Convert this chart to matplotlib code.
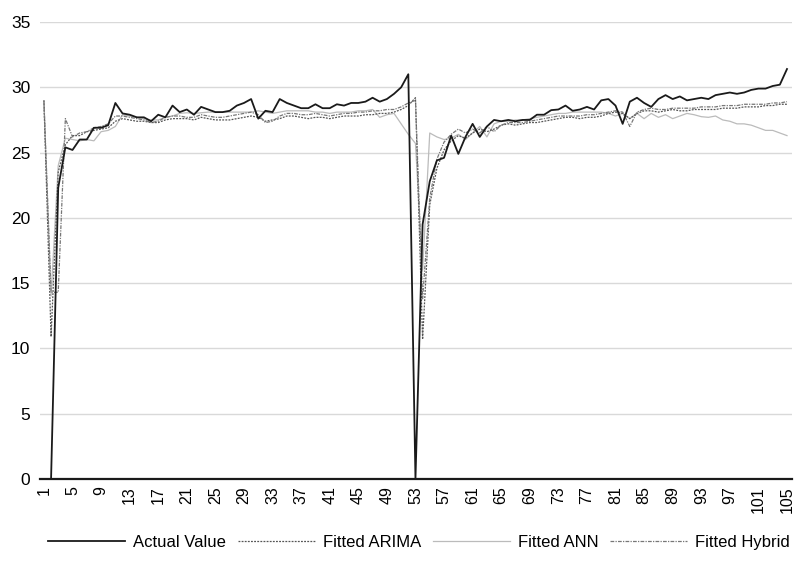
import matplotlib
matplotlib.use("Agg")
import matplotlib.pyplot as plt

plt.rcParams['font.family'] = ['Liberation Sans', 'DejaVu Sans']

periods = list(range(1, 106))
tick_labels = [str(p) for p in periods[::4]]

actual = [0, 0, 22.3, 25.4, 25.2, 26.0, 26.0, 26.9, 26.9, 27.1, 28.8, 28.0, 27.9, 27.7, 27.7, 27.4, 27.9, 27.7, 28.6, 28.1,
          28.3, 27.9, 28.5, 28.3, 28.1, 28.1, 28.2, 28.6, 28.8, 29.1, 27.6, 28.2, 28.1, 29.1, 28.8, 28.6, 28.4, 28.4, 28.7, 28.4,
          28.4, 28.7, 28.6, 28.8, 28.8, 28.9, 29.2, 28.9, 29.1, 29.5, 30.0, 31.0, 0, 19.5, 22.8, 24.4, 24.6, 26.3, 24.9, 26.2,
          27.2, 26.2, 27.0, 27.5, 27.4, 27.5, 27.4, 27.5, 27.5, 27.9, 27.9, 28.25, 28.3, 28.6, 28.2, 28.3, 28.5, 28.3, 29.0, 29.1,
          28.6, 27.2, 28.9, 29.2, 28.8, 28.5, 29.1, 29.4, 29.1, 29.3, 29.0, 29.1, 29.2, 29.1, 29.4, 29.5, 29.6, 29.5, 29.6, 29.8,
          29.9, 29.9, 30.1, 30.2, 31.4]

arima = [29.0, 10.9, 23.5, 25.6, 26.3, 26.3, 26.6, 26.7, 26.8, 26.9, 27.4, 27.6, 27.5, 27.4, 27.4, 27.3, 27.3, 27.5, 27.6, 27.6,
         27.6, 27.5, 27.7, 27.6, 27.5, 27.5, 27.5, 27.6, 27.7, 27.8, 27.7, 27.4, 27.5, 27.6, 27.8, 27.8, 27.7, 27.6, 27.7, 27.7,
         27.6, 27.7, 27.8, 27.8, 27.8, 27.9, 27.9, 28.0, 28.0, 28.1, 28.3, 28.6, 29.2, 10.7, 21.0, 23.8, 25.2, 25.9, 26.3, 26.1,
         26.5, 26.8, 26.6, 26.8, 27.1, 27.2, 27.1, 27.2, 27.3, 27.3, 27.4, 27.5, 27.6, 27.7, 27.7, 27.6, 27.7, 27.7, 27.8, 28.0,
         28.1, 28.0, 27.6, 28.0, 28.2, 28.2, 28.1, 28.2, 28.3, 28.2, 28.2, 28.3, 28.3, 28.3, 28.3, 28.4, 28.4, 28.4, 28.5, 28.5,
         28.5, 28.6, 28.6, 28.7, 28.7]

ann = [28.8, 14.0, 24.0, 26.1, 26.0, 25.9, 26.0, 25.9, 26.6, 26.7, 27.0, 27.9, 27.8, 27.7, 27.6, 27.5, 27.5, 27.7, 27.8, 28.0,
       28.05, 28.0, 28.05, 28.1, 28.1, 28.1, 28.1, 28.1, 28.1, 28.1, 28.2, 28.1, 28.0, 28.1, 28.2, 28.2, 28.2, 28.2, 28.1, 28.1,
       28.0, 28.1, 28.1, 28.1, 28.2, 28.2, 28.3, 27.7, 27.9, 28.0, 27.2, 26.4, 25.7, 16.0, 26.5, 26.2, 26.0, 26.1, 26.4, 26.0,
       26.5, 27.0, 26.2, 27.2, 27.4, 27.4, 27.5, 27.5, 27.6, 27.7, 27.8, 27.9, 28.0, 28.0, 28.1, 28.1, 28.1, 28.1, 28.1, 28.0,
       27.8, 28.0, 27.6, 28.0, 27.6, 28.0, 27.7, 27.9, 27.6, 27.8, 28.0, 27.9, 27.75, 27.7, 27.8, 27.5, 27.4, 27.2, 27.2, 27.1,
       26.9, 26.7, 26.7, 26.5, 26.3]

hybrid = [29.0, 14.3, 14.3, 27.6, 26.2, 26.5, 26.6, 26.9, 27.0, 27.2, 27.8, 27.8, 27.7, 27.6, 27.5, 27.3, 27.4, 27.7, 27.8, 27.8,
          27.7, 27.7, 27.9, 27.8, 27.7, 27.7, 27.8, 27.9, 28.0, 28.1, 27.9, 27.3, 27.4, 27.8, 28.0, 28.0, 27.9, 27.9, 28.0, 27.9,
          27.8, 27.9, 28.0, 28.0, 28.1, 28.1, 28.2, 28.2, 28.3, 28.3, 28.5, 28.8, 29.0, 13.8, 21.5, 24.5, 25.8, 26.4, 26.8, 26.5,
          26.8, 26.5, 27.0, 26.6, 27.1, 27.3, 27.3, 27.3, 27.4, 27.5, 27.6, 27.7, 27.8, 27.8, 27.8, 27.8, 27.9, 27.9, 28.0, 28.1,
          28.2, 28.1, 27.0, 28.1, 28.3, 28.4, 28.3, 28.3, 28.4, 28.4, 28.4, 28.4, 28.5, 28.5, 28.5, 28.6, 28.6, 28.6, 28.7, 28.7,
          28.7, 28.7, 28.8, 28.8, 28.9]

fig = plt.figure(figsize=(8.03, 5.63), dpi=100)
ax = fig.add_axes([0.0498, 0.1492, 0.9365, 0.8117])

ax.plot(periods, actual, color="#1a1a1a", lw=1.3, label="Actual Value", zorder=5)
ax.plot(periods, arima, color="#555555", lw=0.9, ls=(0, (1.5, 1)), label="Fitted ARIMA", zorder=3)
ax.plot(periods, ann, color="#bbbbbb", lw=0.9, label="Fitted ANN", zorder=2)
ax.plot(periods, hybrid, color="#777777", lw=0.9, ls=(0, (3, 1, 1, 1)), label="Fitted Hybrid", zorder=4)

ax.set_xlim(0.45, 105.7)
ax.set_ylim(0, 35)
ax.set_yticks(range(0, 36, 5))
ax.set_xticks(periods[::4])
ax.set_xticklabels(tick_labels, rotation=90, fontsize=11.5)
ax.tick_params(axis="y", labelsize=12.5, length=0, pad=7)
ax.tick_params(axis="x", length=0, pad=5)
ax.grid(axis="y", color="#d9d9d9", lw=1)
ax.set_axisbelow(True)
for s in ["top", "right", "left"]:
    ax.spines[s].set_visible(False)
ax.spines["bottom"].set_color("#1a1a1a")
ax.spines["bottom"].set_linewidth(1.6)
ax.spines["bottom"].set_zorder(6)

fig.legend(loc="lower center", bbox_to_anchor=(0.522, -0.003), ncol=4, frameon=False,
           fontsize=12, handlelength=4.6, columnspacing=0.7, handletextpad=0.5)

fig.savefig("out.png", dpi=100)
